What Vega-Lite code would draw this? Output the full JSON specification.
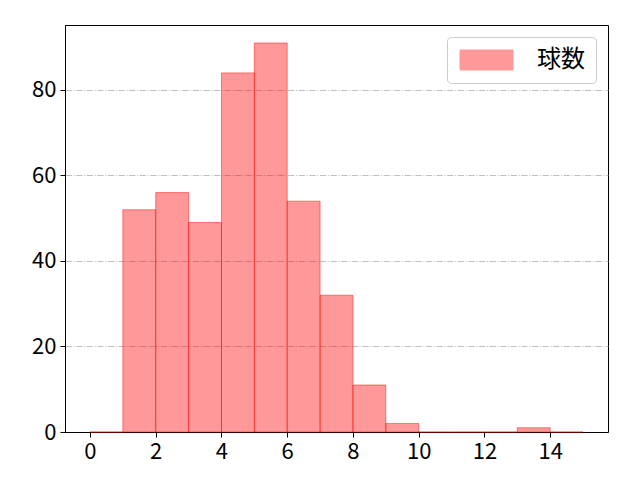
{
  "$schema": "https://vega.github.io/schema/vega-lite/v6.json",
  "width": 543,
  "height": 407,
  "autosize": {"type": "none"},
  "padding": {"left": 65, "top": 25, "right": 32, "bottom": 48},
  "background": "white",
  "config": {
    "font": "Noto Sans CJK JP",
    "view": {"stroke": "black", "strokeWidth": 1}
  },
  "data": {
    "values": [
      {"start": 0, "end": 1, "count": 0, "series": "球数"},
      {"start": 1, "end": 2, "count": 52, "series": "球数"},
      {"start": 2, "end": 3, "count": 56, "series": "球数"},
      {"start": 3, "end": 4, "count": 49, "series": "球数"},
      {"start": 4, "end": 5, "count": 84, "series": "球数"},
      {"start": 5, "end": 6, "count": 91, "series": "球数"},
      {"start": 6, "end": 7, "count": 54, "series": "球数"},
      {"start": 7, "end": 8, "count": 32, "series": "球数"},
      {"start": 8, "end": 9, "count": 11, "series": "球数"},
      {"start": 9, "end": 10, "count": 2, "series": "球数"},
      {"start": 10, "end": 11, "count": 0, "series": "球数"},
      {"start": 11, "end": 12, "count": 0, "series": "球数"},
      {"start": 12, "end": 13, "count": 0, "series": "球数"},
      {"start": 13, "end": 14, "count": 1, "series": "球数"},
      {"start": 14, "end": 15, "count": 0, "series": "球数"}
    ]
  },
  "mark": {"type": "bar", "fillOpacity": 0.4, "stroke": "#ff0000", "strokeOpacity": 0.45, "strokeWidth": 1},
  "encoding": {
    "x": {
      "field": "start", "type": "quantitative",
      "scale": {"domain": [-0.76, 15.76], "nice": false, "zero": false},
      "axis": {
        "title": null, "values": [0, 2, 4, 6, 8, 10, 12, 14], "grid": false,
        "domainColor": "black", "tickColor": "black", "tickSize": 5,
        "labelFontSize": 22, "labelColor": "black", "labelPadding": 4, "labelFlush": false
      }
    },
    "x2": {"field": "end"},
    "y": {
      "field": "count", "type": "quantitative",
      "scale": {"domain": [0, 95.2], "nice": false},
      "axis": {
        "title": null, "values": [0, 20, 40, 60, 80], "grid": true,
        "gridColor": "#b0b0b0", "gridDash": [6.4, 1.6, 1, 1.6], "gridWidth": 0.8,
        "domainColor": "black", "tickColor": "black", "tickSize": 5,
        "labelFontSize": 22, "labelColor": "black", "labelPadding": 4, "labelFlush": false
      }
    },
    "y2": {"datum": 0},
    "fill": {
      "field": "series", "type": "nominal",
      "scale": {"range": ["#ff0000"]},
      "legend": {
        "title": null, "orient": "none", "legendX": 382, "legendY": 12,
        "symbolType": "M-1,-1L4.3,-1L4.3,1L-1,1Z",
        "symbolSize": 400, "symbolOpacity": 0.4, "symbolStrokeColor": "#ff0000", "symbolStrokeWidth": 1,
        "labelFontSize": 24, "labelColor": "black", "labelOffset": 55,
        "strokeColor": "#cccccc", "fillColor": "white", "cornerRadius": 4,
        "padding": 11
      }
    }
  }
}
